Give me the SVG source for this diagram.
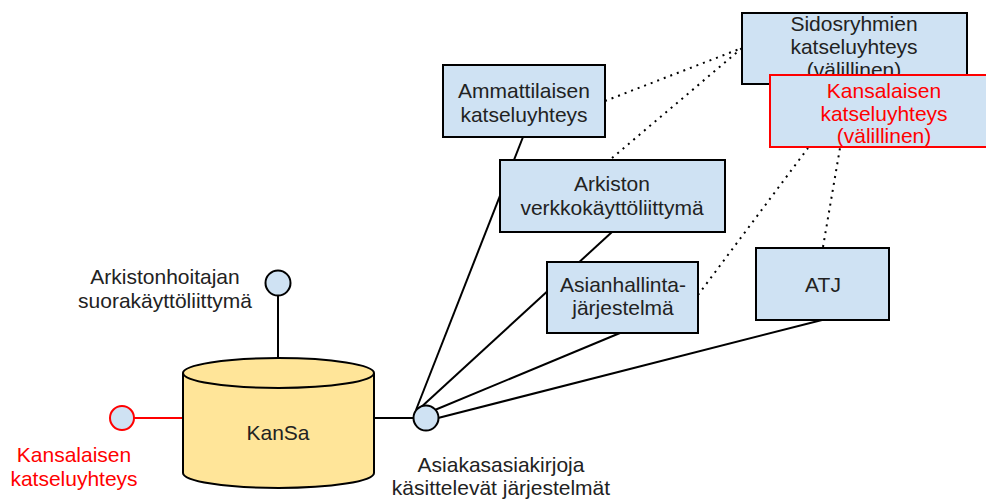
<svg xmlns="http://www.w3.org/2000/svg" width="986" height="499" viewBox="0 0 986 499">
<style>
text{font-family:"Liberation Sans",Arial,sans-serif;font-size:21px;fill:#222;text-anchor:middle}
.red{fill:#ff0000}
.box{fill:#cfe2f3;stroke:#000;stroke-width:2}
.rbox{fill:#cfe2f3;stroke:#ff0000;stroke-width:2}
.ln{stroke:#000;stroke-width:2;fill:none}
.dot{stroke:#000;stroke-width:2;fill:none;stroke-dasharray:2 5}
.node{fill:#cfe2f3;stroke:#000;stroke-width:2}
</style>
<rect width="986" height="499" fill="#fff"/>
<g id="connectors">
<line class="dot" x1="605" y1="101" x2="742" y2="48"/>
<line class="dot" x1="612" y1="158" x2="742" y2="48"/>
<line class="dot" x1="698" y1="295" x2="808" y2="148"/>
<line class="dot" x1="823" y1="247" x2="840" y2="148"/>
<line class="ln" x1="523" y1="137" x2="416" y2="410"/>
<line class="ln" x1="612" y1="232" x2="418" y2="410"/>
<line class="ln" x1="620" y1="333" x2="430" y2="412"/>
<line class="ln" x1="822" y1="320" x2="438" y2="418"/>
<line class="ln" x1="278" y1="296" x2="278" y2="358"/>
<line class="ln" x1="374" y1="418" x2="414" y2="418"/>
<line x1="134" y1="418" x2="183" y2="418" stroke="#ff0000" stroke-width="2"/>
</g>
<g id="sidosryhmien">
<rect class="box" x="742" y="13" width="225" height="71"/>
<text x="854" y="31">Sidosryhmien</text>
<text x="854" y="54">katseluyhteys</text>
<text x="854" y="77">(välillinen)</text>
</g>
<g id="kansalaisen-valillinen">
<rect class="rbox" x="770" y="75" width="228" height="72"/>
<text class="red" x="884" y="98">Kansalaisen</text>
<text class="red" x="884" y="121">katseluyhteys</text>
<text class="red" x="884" y="143">(välillinen)</text>
</g>
<g id="ammattilaisen">
<rect class="box" x="443" y="65" width="162" height="72"/>
<text x="524" y="98">Ammattilaisen</text>
<text x="524" y="122">katseluyhteys</text>
</g>
<g id="arkiston">
<rect class="box" x="500" y="160" width="225" height="72"/>
<text x="612" y="191">Arkiston</text>
<text x="612" y="215">verkkokäyttöliittymä</text>
</g>
<g id="asianhallinta">
<rect class="box" x="547" y="262" width="151" height="71"/>
<text x="623" y="292">Asianhallinta-</text>
<text x="623" y="315">järjestelmä</text>
</g>
<g id="atj">
<rect class="box" x="756" y="248" width="133" height="72"/>
<text x="823" y="292">ATJ</text>
</g>
<g id="kansa">
<path d="M183,373 L183,473 A95.5,15 0 0 0 374,473 L374,373 A95.5,15 0 0 0 183,373 Z" fill="#ffe599" stroke="#000" stroke-width="2"/>
<path d="M183,373 A95.5,15 0 0 0 374,373" fill="none" stroke="#000" stroke-width="2"/>
<text x="278" y="440">KanSa</text>
</g>
<g id="arkistonhoitajan">
<circle class="node" cx="278" cy="283" r="12.5"/>
<text x="165" y="284">Arkistonhoitajan</text>
<text x="165" y="308">suorakäyttöliittymä</text>
</g>
<g id="kansalaisen">
<circle cx="122" cy="418" r="12" fill="#cfe2f3" stroke="#ff0000" stroke-width="2"/>
<text class="red" x="74" y="462">Kansalaisen</text>
<text class="red" x="74" y="486">katseluyhteys</text>
</g>
<g id="asiakas">
<circle class="node" cx="426" cy="418" r="12.5"/>
<text x="501" y="472">Asiakasasiakirjoja</text>
<text x="501" y="495">käsittelevät järjestelmät</text>
</g>
</svg>
